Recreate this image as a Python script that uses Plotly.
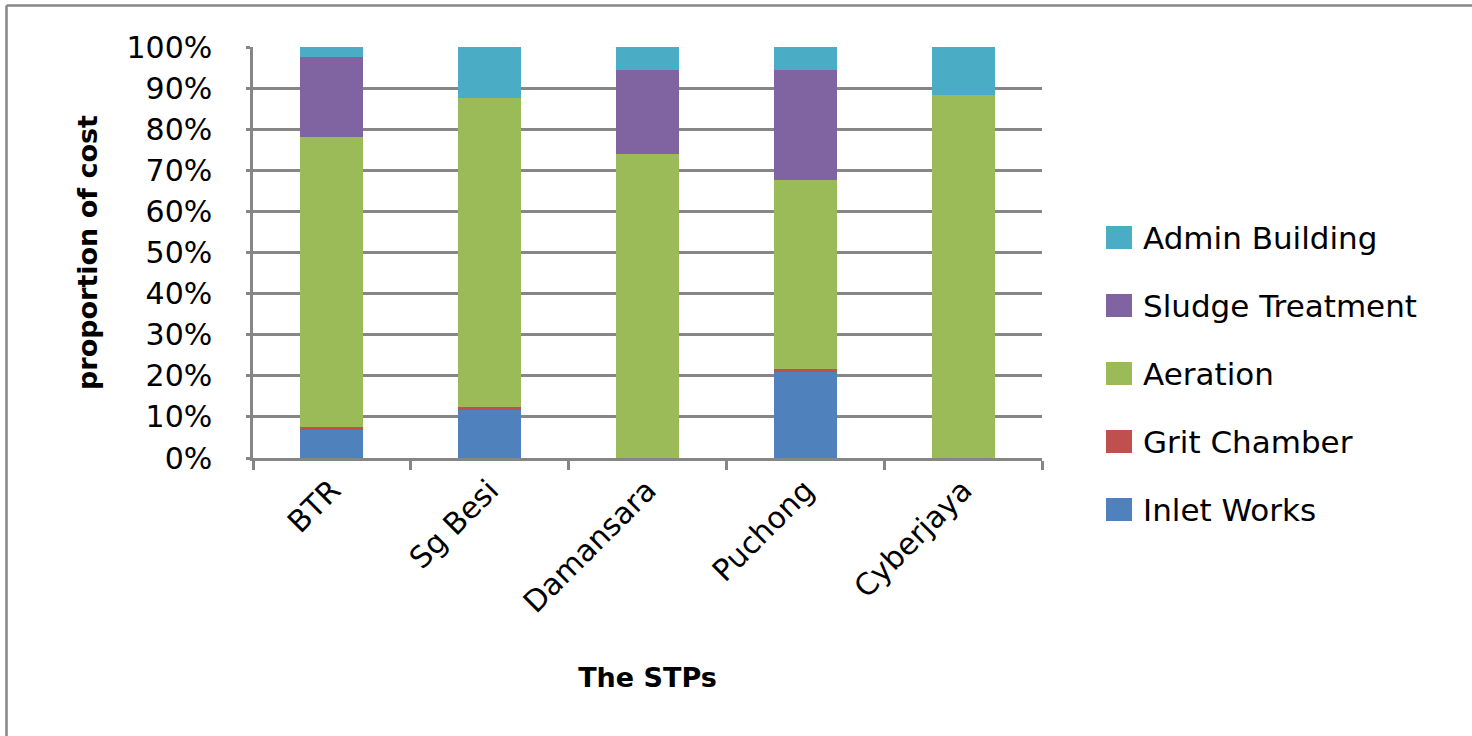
import plotly.graph_objects as go

# Cost breakdown of sewage treatment plants (percent of total cost)
plants = ["BTR", "Sg Besi", "Damansara", "Puchong", "Cyberjaya"]
inlet_works = [6.8, 11.7, 0.0, 21.0, 0.0]
grit_chamber = [0.7, 0.7, 0.0, 0.6, 0.0]
aeration = [70.7, 75.2, 73.9, 46.0, 88.3]
sludge_treatment = [19.4, 0.0, 20.4, 26.7, 0.0]
admin_building = [2.4, 12.4, 5.7, 5.7, 11.7]

y_ticks = list(range(0, 101, 10))

series = [
    ("Inlet Works", inlet_works, "#4F81BD"),
    ("Grit Chamber", grit_chamber, "#C0504D"),
    ("Aeration", aeration, "#9BBB59"),
    ("Sludge Treatment", sludge_treatment, "#8064A2"),
    ("Admin Building", admin_building, "#4BACC6"),
]

# page geometry (pixels)
W, H = 1472, 736
L, R, T, B = 253, 430, 47, 278
PW, PH = W - L - R, H - T - B


def px_x(x):
    return (x - L) / PW


def px_y(y):
    return (H - B - y) / PH


fig = go.Figure()
for name, vals, color in series:
    fig.add_trace(go.Bar(
        x=plants, y=vals, name=name,
        marker=dict(color=color, line=dict(width=0)),
        showlegend=False,
    ))

shapes = []
annotations = []

# legend drawn as swatches + labels, top entry is the last series
for i, (name, vals, color) in enumerate(reversed(series)):
    cy = 237.5 + i * 68
    shapes.append(dict(
        type="rect", xref="paper", yref="paper",
        x0=px_x(1106), x1=px_x(1132), y0=px_y(cy + 11.5), y1=px_y(cy - 11.5),
        fillcolor=color, line=dict(width=0), layer="above",
    ))
    annotations.append(dict(
        xref="paper", yref="paper", x=px_x(1141), y=px_y(cy),
        xanchor="left", yanchor="middle", showarrow=False, text=name,
        font=dict(family="DejaVu Sans", size=31, color="#000000"),
    ))

# outer chart frame: top and left edges
frame = dict(color="#868686", width=2.5)
shapes.append(dict(type="line", xref="paper", yref="paper",
                   x0=px_x(6.5), x1=px_x(W), y0=px_y(5.5), y1=px_y(5.5),
                   line=frame, layer="below"))
shapes.append(dict(type="line", xref="paper", yref="paper",
                   x0=px_x(6.5), x1=px_x(6.5), y0=px_y(5.5), y1=px_y(H),
                   line=frame, layer="below"))

fig.update_layout(
    width=W, height=H,
    margin=dict(l=L, r=R, t=T, b=B, pad=0),
    barmode="stack",
    bargap=0.6,
    plot_bgcolor="#FFFFFF",
    paper_bgcolor="#FFFFFF",
    showlegend=False,
    shapes=shapes,
    annotations=annotations,
    font=dict(family="DejaVu Sans", color="#000000"),
)

fig.update_xaxes(
    type="category",
    tickson="boundaries",
    ticks="outside", ticklen=9, tickwidth=2.5, tickcolor="#868686",
    showline=True, linecolor="#868686", linewidth=2.5,
    showgrid=False,
    tickangle=-45,
    tickfont=dict(family="DejaVu Sans", size=30, color="#000000"),
    title=dict(text="<b>The STPs</b>", standoff=50,
               font=dict(family="DejaVu Sans", size=27, color="#000000")),
)

fig.update_yaxes(
    range=[0, 100],
    tickvals=y_ticks,
    ticktext=[f"{v}%" for v in y_ticks],
    ticks="outside", ticklen=4, tickwidth=2.5, tickcolor="#868686",
    ticklabelstandoff=28,
    showline=True, linecolor="#868686", linewidth=2.5,
    showgrid=True, gridcolor="#868686", gridwidth=2.5,
    zeroline=False,
    tickfont=dict(family="DejaVu Sans", size=30, color="#000000"),
    title=dict(text="<b>proportion of cost</b>", standoff=22,
               font=dict(family="DejaVu Sans", size=27, color="#000000")),
)

fig.write_html("out.html")
